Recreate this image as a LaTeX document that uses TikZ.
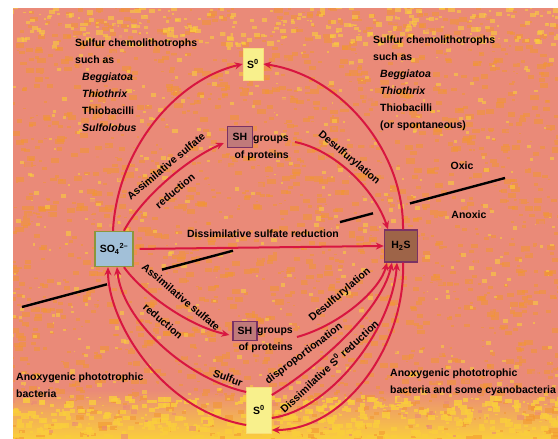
\documentclass[tikz,border=0pt]{standalone}
\usepackage{fontspec}
\setmainfont{Liberation Sans}
\usetikzlibrary{arrows.meta}
\definecolor{bgpink}{RGB}{234,138,120}
\definecolor{bgorange}{RGB}{242,150,48}
\definecolor{bgyellow}{RGB}{250,206,60}
\definecolor{arrowred}{RGB}{216,22,64}
\definecolor{sfill}{RGB}{248,240,140}
\definecolor{soffill}{RGB}{162,192,216}
\definecolor{sofline}{RGB}{140,150,60}
\definecolor{hsfill}{RGB}{158,100,72}
\definecolor{hsline}{RGB}{122,50,100}
\definecolor{shfill}{RGB}{192,122,122}
\definecolor{shline}{RGB}{122,50,100}
\newcommand\lblfont{\fontsize{10.5}{17}\selectfont\bfseries}
\begin{document}
\begin{tikzpicture}[x=1pt,y=-1pt,
  lbl/.style={font=\lblfont, inner sep=0pt, text=black},
  arr/.style={draw=arrowred, line width=2pt, -{Stealth[length=8pt,width=7pt]}},
  boundary/.style={draw=black, line width=2.4pt},
  sbox/.style={font=\lblfont, fill=sfill, draw=sfill!85!orange, line width=0.6pt, inner sep=1pt},
  sobox/.style={font=\lblfont, fill=soffill, draw=sofline, line width=1.4pt, inner sep=1pt},
  hsbox/.style={font=\lblfont, fill=hsfill, draw=hsline, line width=1.4pt, inner sep=1pt},
  shbox/.style={font=\lblfont, fill=shfill, draw=shline, line width=1.2pt, inner sep=1pt}]
\useasboundingbox (0,0) rectangle (558,439);
\fill[white] (0,0) rectangle (558,439);
% mottled background
\begin{scope}
\clip (13,8) rectangle (558,439);
\fill[bgpink] (13,8) rectangle (558,439);
\shade[top color=bgpink, bottom color=bgyellow] (13,390) rectangle (558,439);
\pgfmathsetseed{11}
\foreach \i in {1,...,1900}{
  \pgfmathsetmacro{\rx}{8+550*rnd}
  \pgfmathsetmacro{\ry}{4+435*rnd}
  \pgfmathsetmacro{\rs}{2+7*rnd}
  \fill[bgorange, opacity=0.55] (\rx,\ry) rectangle ++(\rs,0.6*\rs);
}
\foreach \i in {1,...,500}{
  \pgfmathsetmacro{\rx}{8+550*rnd}
  \pgfmathsetmacro{\ry}{4+435*rnd}
  \pgfmathsetmacro{\rs}{1.5+4*rnd}
  \fill[bgyellow, opacity=0.6] (\rx,\ry) rectangle ++(\rs,0.8*\rs);
}
\foreach \i in {1,...,250}{
  \pgfmathsetmacro{\rx}{8+550*rnd}
  \pgfmathsetmacro{\ry}{4+40*rnd}
  \pgfmathsetmacro{\rs}{2+5*rnd}
  \fill[bgyellow, opacity=0.6] (\rx,\ry) rectangle ++(\rs,0.7*\rs);
}
\foreach \i in {1,...,450}{
  \pgfmathsetmacro{\rx}{8+550*rnd}
  \pgfmathsetmacro{\ry}{395+44*rnd}
  \pgfmathsetmacro{\rs}{2+6*rnd}
  \fill[bgyellow, opacity=0.8] (\rx,\ry) rectangle ++(\rs,0.7*\rs);
}
\foreach \i in {1,...,400}{
  \pgfmathsetmacro{\rx}{8+550*rnd}
  \pgfmathsetmacro{\ry}{4+435*rnd}
  \pgfmathsetmacro{\rs}{2+5*rnd}
  \fill[bgpink, opacity=0.6] (\rx,\ry) rectangle ++(\rs,0.7*\rs);
}
\end{scope}
% oxic / anoxic boundary
\draw[boundary] (22,307) -- (107,284.3);
\draw[boundary] (162,269.6) -- (233,250.7);
\draw[boundary] (340,222.1) -- (373,213.3);
\draw[boundary] (410,203.4) -- (505,178);
% compounds
\node[sbox, minimum width=20pt, minimum height=32pt] (s0t) at (253,64) {S\textsuperscript{0}};
\node[sobox, minimum width=38pt, minimum height=35pt] (so4) at (114,249) {SO\textsubscript{4}\textsuperscript{2--}};
\node[hsbox, minimum width=33pt, minimum height=32pt] (h2s) at (401,246) {H\textsubscript{2}S};
\node[shbox, minimum width=25pt, minimum height=21pt] (sht) at (240,137) {SH};
\node[shbox, minimum width=24pt, minimum height=19pt] (shb) at (245,331) {SH};
\node[sbox, minimum width=25pt, minimum height=46pt] (s0b) at (259,410) {S\textsuperscript{0}};
\node[lbl, align=right, anchor=north east] (shtl) at (289,136) {groups\\of proteins};
\node[lbl, align=right, anchor=north east] (shbl) at (293,328) {groups\\of proteins};
% text blocks
\node[lbl, align=left, anchor=north west] (chemL) at (75,39) {Sulfur chemolithotrophs\\such as\\\hspace*{7pt}\textit{Beggiatoa}\\\hspace*{7pt}\textit{Thiothrix}\\\hspace*{7pt}Thiobacilli\\\hspace*{7pt}\textit{Sulfolobus}};
\node[lbl, align=left, anchor=north west] (chemR) at (373,36) {Sulfur chemolithotrophs\\such as\\\hspace*{7pt}\textit{Beggiatoa}\\\hspace*{7pt}\textit{Thiothrix}\\\hspace*{7pt}Thiobacilli\\\hspace*{7pt}(or spontaneous)};
\node[lbl] (oxic) at (462,166) {Oxic};
\node[lbl] (anoxic) at (469,215) {Anoxic};
\node[lbl, align=left, anchor=north west] (photL) at (16,373) {Anoxygenic phototrophic\\bacteria};
\node[lbl, align=left, anchor=north west] (photR) at (390,369) {Anoxygenic phototrophic\\bacteria and some cyanobacteria};
% arrows
\draw[arr] ([xshift=-1pt]so4.north) .. controls (117,150) and (175,80) .. (s0t.west);
\draw[arr] ([xshift=2pt]h2s.north) .. controls (404,150) and (340,75) .. (s0t.east);
\draw[arr] ([xshift=10pt]so4.north) .. controls (140,200) and (185,160) .. ([xshift=-3pt,yshift=-6pt]sht.west);
\draw[arr] ([xshift=6pt,yshift=-6pt]shtl.north east) .. controls (335,150) and (375,190) .. ([xshift=-13pt]h2s.north);
\draw[arr, shorten <=6pt] (so4.east) -- (h2s.west);
\draw[arr] ([xshift=10pt]so4.south) .. controls (140,290) and (185,325) .. ([xshift=-3pt,yshift=-4pt]shb.west);
\draw[arr] ([yshift=18pt]s0b.west) .. controls (185,378) and (122,320) .. ([xshift=3pt]so4.south);
\draw[arr] ([yshift=-15pt]s0b.west) .. controls (160,410) and (108,320) .. ([xshift=-6pt]so4.south);
\draw[arr] ([xshift=4pt,yshift=-9pt]shbl.north east) .. controls (340,325) and (380,290) .. ([xshift=-14pt]h2s.south);
\draw[arr] ([yshift=15pt]s0b.east) .. controls (310,372) and (380,315) .. ([xshift=-9pt]h2s.south);
\draw[arr] ([yshift=-8pt]s0b.east) .. controls (330,410) and (392,330) .. ([xshift=-4pt]h2s.south);
\draw[arr] ([xshift=2pt]h2s.south) .. controls (406,345) and (345,430) .. ([yshift=-20pt]s0b.east);
% arrow labels
\node[lbl] (dsr) at (263,234) {Dissimilative sulfate reduction};
\node[lbl, rotate=40] (asrT1) at (166,166) {Assimilative sulfate};
\node[lbl, rotate=40] (asrT2) at (175,191) {reduction};
\node[lbl, rotate=-40] (desT) at (349,158) {Desulfurylation};
\node[lbl, rotate=-40] (asrB1) at (181,297) {Assimilative sulfate};
\node[lbl, rotate=-40] (asrB2) at (163,321) {reduction};
\node[lbl, rotate=40] (desB) at (340,295) {Desulfurylation};
\node[lbl, rotate=-20] (sulf) at (228,378) {Sulfur};
\node[lbl, rotate=37] (disp) at (304,354) {disproportionation};
\node[lbl, rotate=43] (dsz) at (329,366) {Dissimilative S\textsuperscript{0} reduction};
\end{tikzpicture}
\end{document}
